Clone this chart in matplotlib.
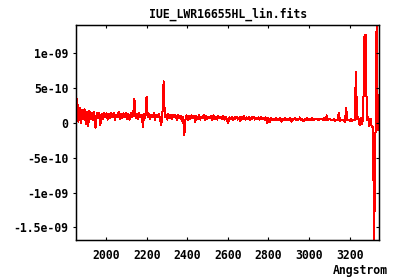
#!/usr/bin/env python3
# IUE LWR spectrum, linear flux plot (gnuplot-like look)
import numpy as np
import matplotlib
matplotlib.use('Agg')
import matplotlib.pyplot as plt

title = 'IUE_LWR16655HL_lin.fits'
xlabel = 'Angstrom'

# wavelength range of the spectrum (Angstrom), evenly sampled
wave_start = 1851
wave_end = 3345

# flux, in units of 1e-10
flux_e10 = [
    2.4, 3.5, 0.2, 2.2, 0.0, 1.9, 0.6, 2.0, -0.1, 1.6,
    -0.5, 1.8, 0.6, 1.5, 0.4, 1.6, -0.7, 1.4, 0.7, 1.5,
    -0.25, 1.3, 0.6, 1.5, 0.8, 1.4, 0.5, 1.3, 0.7, 1.5,
    0.8, 1.4, 0.4, 1.2, 0.9, 1.6, 0.6, 1.3, 0.7, 1.4,
    0.8, 1.5, 0.6, 1.3, 0.5, 1.4, 0.9, 1.2, 3.5, 0.7,
    1.3, 0.6, 1.4, 0.8, 1.2, -0.6, 1.3, 0.7, 3.8, 0.8,
    1.3, 0.6, 1.2, 0.9, 1.4, 0.5, 1.2, 0.8, 1.3, 0.6,
    -0.35, 1.2, 6.0, 0.8, 1.2, 0.5, 1.3, 0.7, 1.1, 0.6,
    1.2, 0.8, 1.1, 0.4, 1.2, 0.7, 1.0, 0.3, 0.9, -1.7,
    0.6, 1.1, 0.5, 1.0, 0.6, 1.1, 0.7, 1.0, 0.2, 1.0,
    0.6, 1.1, 0.5, 0.9, 0.7, 1.2, 0.5, 1.0, 0.6, 0.9,
    0.7, 1.0, 0.4, 1.1, 0.6, 0.9, 0.5, 1.0, 0.7, 0.9,
    0.6, 1.0, 0.5, 0.9, 0.6, 0.0, 0.8, 0.6, 0.9, 0.5,
    0.8, 0.6, 0.9, 0.5, 0.8, 0.3, 0.9, 0.6, 1.0, 0.5,
    0.8, 0.6, 0.9, 0.5, 0.8, 0.6, 0.9, 0.5, 0.7, 0.6,
    0.8, 0.5, 0.9, 0.6, 0.7, 0.5, 0.8, 0.0, 0.7, 0.1,
    0.7, 0.5, 0.6, 0.4, 0.7, 0.5, 0.6, 0.4, 0.7, 0.2,
    0.6, 0.5, 0.7, 0.4, 0.6, 0.5, 0.7, 0.2, 0.6, 0.5,
    0.7, 0.4, 0.6, 0.5, 0.8, 0.4, 0.6, 0.3, 0.6, 0.5,
    0.7, 0.4, 0.6, 0.5, 0.7, 0.4, 0.6, 0.5, 0.6, 0.4,
    0.6, 0.5, 0.6, 0.4, 0.7, 0.4, 1.1, 0.4, 0.6, 0.5,
    0.5, 0.4, 0.6, 0.3, 0.5, 0.4, 1.5, 0.3, 0.5, 0.4,
    0.5, 0.2, 2.1, 0.4, 0.5, 0.3, 0.6, 0.3, 0.5, 0.4,
    7.3, 0.6, 0.9, -0.3, 0.8, -0.1, 0.7, 12.4, 12.7, 0.5,
    0.8, -0.4, 0.6, -0.6, -0.5, -16.8, -3.6, 14.1, -1.0, 4.0,
]

xticks = [2000, 2200, 2400, 2600, 2800, 3000, 3200]
yticks = [-1.5e-9, -1e-9, -5e-10, 0, 5e-10, 1e-9]
ytick_labels = ['-1.5e-09', '-1e-09', '-5e-10', '0', '5e-10', '1e-09']

flux = np.array(flux_e10) * 1e-10
wave = np.linspace(wave_start, wave_end, len(flux))

plt.rcParams['font.family'] = 'DejaVu Sans Mono'
plt.rcParams['font.weight'] = 'bold'
plt.rcParams['font.size'] = 8.3

fig = plt.figure(figsize=(4, 2.8), dpi=100)
ax = fig.add_axes([0.19, 0.143, 0.7575, 0.768])

ax.plot(wave, flux, color='red', linewidth=0.72, antialiased=False)

# gnuplot autoscale -> exact data range
ax.set_xlim(wave.min(), wave.max())
ax.set_ylim(flux.min(), flux.max())

ax.set_xticks(xticks)
ax.set_yticks(yticks)
ax.set_yticklabels(ytick_labels)
ax.tick_params(axis='x', direction='in', length=2, width=0.8, pad=6.5, top=True)
ax.tick_params(axis='y', direction='out', length=2, width=0.8, pad=3.5)
for s in ax.spines.values():
    s.set_linewidth(1.0)

# mirrored y tics on the right side point inward
axr = ax.twinx()
axr.set_ylim(ax.get_ylim())
axr.set_yticks(yticks)
axr.tick_params(axis='y', direction='in', length=2.5, width=0.8, labelright=False)

fig.text(0.569, 0.949, title, ha='center', va='center')
fig.text(0.97, 0.033, xlabel, ha='right', va='center')

fig.savefig('out.png', dpi=100)
print("out.png created")
